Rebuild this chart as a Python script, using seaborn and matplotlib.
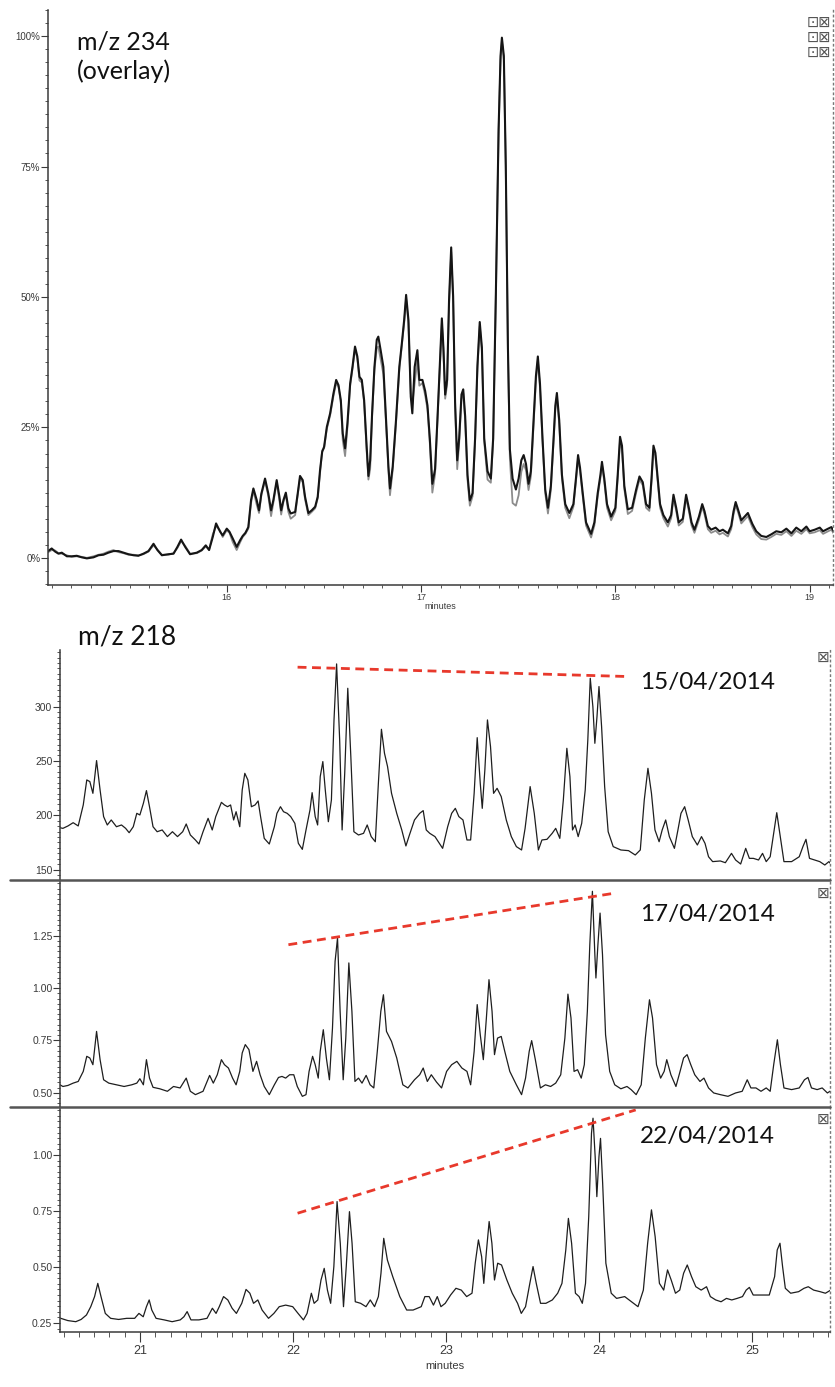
import matplotlib
matplotlib.use("Agg")
import matplotlib.pyplot as plt
from matplotlib.lines import Line2D
from matplotlib.ticker import MultipleLocator, FixedLocator, FuncFormatter
import seaborn as sns

# ---------------- data: m/z 234 overlay (percent of base peak) ----------------
top_time = [
    15.077, 15.099, 15.117, 15.134, 15.151, 15.177, 15.202, 15.228, 15.254, 15.280,
    15.314, 15.340, 15.365, 15.391, 15.417, 15.443, 15.468, 15.494, 15.520, 15.545,
    15.571, 15.597, 15.623, 15.643, 15.666, 15.700, 15.726, 15.746, 15.765, 15.786,
    15.811, 15.846, 15.871, 15.892, 15.909, 15.928, 15.945, 15.966, 15.979, 16.000,
    16.014, 16.031, 16.051, 16.069, 16.082, 16.096, 16.111, 16.125, 16.137, 16.154,
    16.166, 16.178, 16.197, 16.214, 16.228, 16.240, 16.257, 16.271, 16.280, 16.292,
    16.304, 16.317, 16.329, 16.352, 16.365, 16.377, 16.391, 16.403, 16.420, 16.437,
    16.455, 16.468, 16.480, 16.491, 16.501, 16.515, 16.532, 16.549, 16.563, 16.575,
    16.587, 16.597, 16.609, 16.621, 16.635, 16.647, 16.660, 16.672, 16.683, 16.695,
    16.707, 16.720, 16.729, 16.738, 16.748, 16.760, 16.772, 16.780, 16.792, 16.806,
    16.818, 16.832, 16.840, 16.854, 16.871, 16.888, 16.901, 16.913, 16.923, 16.935,
    16.947, 16.955, 16.967, 16.981, 16.991,
    17.007, 17.021, 17.033, 17.045, 17.058, 17.072, 17.084, 17.096, 17.107, 17.115,
    17.124, 17.134, 17.144, 17.155, 17.165, 17.175, 17.186, 17.196, 17.208, 17.217,
    17.227, 17.239, 17.251, 17.265, 17.278, 17.290, 17.302, 17.313, 17.325, 17.342,
    17.359, 17.371, 17.385, 17.399, 17.409, 17.416, 17.426, 17.436, 17.447, 17.457,
    17.471, 17.488, 17.502, 17.516, 17.528, 17.540, 17.553, 17.565, 17.579, 17.591,
    17.601, 17.612, 17.625, 17.639, 17.653, 17.668, 17.682, 17.691, 17.699, 17.711,
    17.725, 17.742, 17.763, 17.784, 17.797, 17.808, 17.818, 17.832, 17.849, 17.875,
    17.892, 17.909, 17.923, 17.931, 17.943, 17.957, 17.978, 18.000, 18.012, 18.024,
    18.034, 18.046, 18.064, 18.086, 18.107, 18.124, 18.141, 18.158, 18.175, 18.186,
    18.196, 18.206, 18.218, 18.230, 18.247, 18.270, 18.287, 18.299, 18.313, 18.326,
    18.347, 18.364, 18.378, 18.392, 18.407, 18.430, 18.447, 18.459, 18.476, 18.493,
    18.516, 18.536, 18.553, 18.579, 18.596, 18.608, 18.619, 18.631, 18.648, 18.665,
    18.682, 18.705, 18.725, 18.751, 18.777, 18.802, 18.828, 18.854, 18.880, 18.906,
    18.931, 18.957, 18.983, 19.000, 19.026, 19.052, 19.069, 19.095, 19.112, 19.129,
]
top_run_a = [
    1.2, 1.8, 1.2, 0.8, 1.0, 0.3, 0.3, 0.4, 0.1, -0.1,
    0.1, 0.5, 0.6, 1.0, 1.3, 1.3, 1.0, 0.7, 0.5, 0.4,
    0.8, 1.3, 2.7, 1.5, 0.5, 0.7, 0.8, 2.1, 3.5, 2.1,
    0.7, 1.0, 1.5, 2.4, 1.5, 4.0, 6.6, 5.0, 4.3, 5.6,
    5.0, 3.7, 2.1, 3.4, 4.2, 4.8, 5.9, 11.1, 13.3, 11.1,
    9.1, 12.3, 15.2, 12.3, 9.1, 11.1, 14.9, 11.7, 9.1, 11.1,
    12.5, 9.5, 8.5, 8.8, 12.3, 15.7, 14.9, 11.7, 8.6, 9.1,
    9.8, 11.7, 16.8, 20.3, 21.3, 25.1, 27.7, 31.5, 34.1, 33.1,
    30.2, 23.8, 21.0, 25.8, 33.4, 36.6, 40.5, 38.6, 34.7, 34.1,
    30.2, 21.3, 15.7, 18.7, 27.7, 36.6, 41.8, 42.4, 39.8, 36.6,
    27.7, 17.5, 13.3, 17.5, 26.4, 36.6, 41.1, 45.6, 50.4, 45.6,
    30.9, 27.7, 36.6, 39.8, 34.1,
    34.1, 32.0, 29.2, 22.9, 14.2, 17.0, 26.4, 36.8, 45.9, 40.3,
    31.3, 34.1, 49.4, 59.5, 50.1, 29.9, 18.7, 22.9, 31.3, 32.3,
    27.1, 15.9, 11.0, 12.4, 22.9, 36.8, 45.2, 40.3, 22.9, 16.6,
    15.2, 22.9, 50.8, 82.2, 96.2, 99.7, 96.2, 75.2, 40.3, 20.8,
    15.2, 13.1, 15.2, 18.7, 19.7, 18.0, 14.2, 16.6, 26.4, 34.8,
    38.6, 33.4, 22.9, 13.1, 9.6, 13.8, 22.9, 29.2, 31.6, 26.4,
    15.9, 10.3, 8.6, 10.3, 15.2, 19.7, 17.3, 12.4, 6.8, 4.6,
    6.8, 12.4, 15.9, 18.4, 15.2, 10.3, 7.9, 9.6, 15.9, 23.2,
    21.5, 13.8, 9.3, 9.6, 13.1, 15.6, 14.5, 10.3, 9.6, 15.2,
    21.5, 20.1, 15.2, 10.3, 8.2, 6.8, 8.2, 12.1, 9.6, 6.8,
    7.5, 12.1, 9.6, 6.8, 5.4, 7.9, 10.3, 8.9, 6.1, 5.4,
    5.8, 5.1, 5.4, 4.7, 6.1, 8.9, 10.7, 9.3, 7.2, 7.9,
    8.6, 6.5, 5.1, 4.2, 4.0, 4.5, 5.1, 4.9, 5.6, 4.7,
    5.8, 5.1, 6.0, 5.1, 5.4, 5.8, 5.1, 5.6, 5.9, 4.7,
]
top_run_b = [
    1.0, 1.5, 1.4, 0.9, 0.8, 0.5, 0.2, 0.3, 0.2, 0.0,
    0.3, 0.6, 0.8, 1.2, 1.5, 1.1, 0.9, 0.6, 0.6, 0.5,
    0.7, 1.2, 2.4, 1.6, 0.6, 0.6, 0.9, 1.9, 3.2, 2.3,
    0.8, 0.9, 1.4, 2.2, 1.6, 4.5, 6.1, 5.2, 4.0, 5.3,
    4.8, 3.0, 1.5, 3.0, 4.0, 4.6, 5.6, 10.5, 12.9, 10.2,
    8.6, 12.0, 14.8, 11.8, 8.0, 10.6, 14.5, 11.0, 8.3, 10.8,
    12.1, 8.8, 7.5, 8.2, 12.0, 15.3, 14.5, 11.2, 8.2, 8.8,
    9.5, 11.4, 16.3, 20.6, 21.0, 24.7, 27.3, 31.0, 33.5, 32.8,
    29.8, 22.5, 19.5, 25.0, 33.0, 36.2, 40.0, 38.2, 34.0, 33.6,
    29.8, 20.5, 15.0, 17.0, 27.2, 36.0, 40.2, 40.5, 38.0, 35.2,
    27.0, 16.8, 12.0, 16.8, 25.8, 36.0, 40.6, 45.0, 49.6, 45.0,
    31.5, 29.5, 33.5, 38.0, 33.0,
    33.5, 31.2, 28.5, 22.0, 12.5, 16.0, 25.8, 36.0, 45.0, 39.6,
    30.5, 33.2, 48.5, 58.6, 49.2, 29.0, 17.0, 22.0, 30.5, 31.6,
    26.4, 15.0, 10.0, 11.8, 22.3, 36.2, 44.4, 39.7, 22.3, 15.0,
    14.4, 22.3, 50.2, 81.5, 95.4, 99.0, 95.5, 74.5, 39.5, 19.0,
    10.5, 10.0, 12.0, 16.5, 18.0, 16.8, 13.0, 15.6, 25.6, 34.0,
    37.8, 32.6, 22.3, 12.4, 8.5, 13.0, 22.3, 28.5, 30.8, 25.7,
    15.2, 9.6, 7.6, 9.8, 14.6, 19.0, 16.6, 11.8, 6.2, 3.9,
    6.2, 11.8, 15.3, 17.8, 14.6, 9.6, 7.2, 9.0, 15.2, 22.5,
    20.8, 13.2, 8.4, 9.0, 12.5, 15.0, 13.9, 9.6, 9.0, 14.6,
    20.8, 19.5, 14.6, 9.6, 7.6, 6.0, 7.6, 11.5, 9.0, 6.2,
    6.9, 11.5, 9.0, 6.2, 4.8, 7.3, 9.8, 8.3, 5.5, 4.8,
    5.2, 4.5, 4.8, 4.1, 5.5, 8.3, 10.1, 8.8, 6.6, 7.3,
    8.0, 5.9, 4.5, 3.6, 3.5, 4.0, 4.6, 4.4, 5.1, 4.2,
    5.2, 4.6, 5.5, 4.7, 4.9, 5.3, 4.6, 5.1, 5.4, 4.3,
]

# ---------------- data: m/z 218, 15/04/2014 ----------------
t_0415 = [
    20.446, 20.496, 20.529, 20.563, 20.596, 20.629, 20.652, 20.672, 20.692, 20.716,
    20.739, 20.762, 20.786, 20.812, 20.846, 20.879, 20.906, 20.929, 20.956, 20.979,
    20.999, 21.022, 21.042, 21.062, 21.085, 21.112, 21.145, 21.179, 21.212, 21.245,
    21.279, 21.302, 21.329, 21.362, 21.385, 21.412, 21.445, 21.472, 21.495, 21.512,
    21.532, 21.552, 21.572, 21.592, 21.612, 21.628, 21.652, 21.668, 21.685, 21.705,
    21.728, 21.752, 21.772, 21.788, 21.812, 21.845, 21.878, 21.895, 21.918, 21.938,
    21.962, 21.985, 22.012, 22.035, 22.061, 22.085, 22.111, 22.125, 22.145, 22.161,
    22.178, 22.195, 22.211, 22.231, 22.251, 22.268, 22.285, 22.305, 22.321, 22.338,
    22.358, 22.378, 22.398, 22.428, 22.461, 22.485, 22.511, 22.538, 22.558, 22.578,
    22.598, 22.618, 22.644, 22.678, 22.711, 22.738, 22.761, 22.794, 22.828, 22.851,
    22.871, 22.894, 22.928, 22.978, 23.011, 23.037, 23.061, 23.084, 23.111, 23.137,
    23.161, 23.184, 23.204, 23.224, 23.237, 23.254, 23.271, 23.291, 23.311, 23.334,
    23.361, 23.394, 23.427, 23.460, 23.494, 23.517, 23.550, 23.577, 23.604, 23.627,
    23.660, 23.694, 23.717, 23.744, 23.767, 23.790, 23.810, 23.827, 23.844, 23.864,
    23.887, 23.910, 23.927, 23.943, 23.960, 23.973, 23.987, 24.000, 24.017, 24.037,
    24.060, 24.093, 24.143, 24.193, 24.237, 24.270, 24.296, 24.320, 24.343, 24.366,
    24.393, 24.413, 24.436, 24.460, 24.493, 24.516, 24.536, 24.560, 24.583, 24.610,
    24.643, 24.670, 24.693, 24.716, 24.743, 24.793, 24.826, 24.866, 24.893, 24.926,
    24.959, 24.983, 25.009, 25.043, 25.069, 25.093, 25.119, 25.142, 25.162, 25.182,
    25.209, 25.259, 25.309, 25.333, 25.353, 25.376, 25.409, 25.443, 25.476, 25.503, 25.516,
]
i_0415 = [
    189.5, 188.0, 190.2, 193.2, 190.2, 209.5, 232.5, 231.0, 220.2, 250.3,
    223.3, 198.8, 191.1, 195.7, 189.5, 191.1, 188.0, 184.0, 189.5, 201.8,
    200.3, 211.0, 222.7, 207.9, 189.5, 184.9, 186.5, 180.4, 184.9, 180.4,
    184.9, 192.0, 181.9, 177.3, 173.6, 184.9, 197.2, 186.5, 198.8, 204.9,
    211.9, 209.5, 207.9, 209.5, 195.7, 203.3, 189.5, 223.3, 238.6, 232.5,
    207.9, 209.5, 213.2, 198.8, 178.8, 173.6, 189.5, 201.8, 207.9, 203.3,
    201.8, 198.8, 192.6, 174.2, 168.7, 186.5, 204.9, 220.8, 198.8, 191.1,
    235.6, 249.4, 223.3, 194.1, 214.1, 287.7, 339.2, 269.3, 186.5, 238.6,
    316.8, 253.9, 184.9, 181.9, 183.4, 191.1, 180.4, 175.7, 229.4, 279.1,
    257.0, 244.8, 220.2, 201.8, 186.5, 171.8, 181.9, 195.7, 201.8, 204.3,
    186.5, 183.4, 180.4, 169.6, 189.5, 201.8, 206.4, 198.8, 195.7, 177.3,
    177.3, 220.2, 271.4, 229.4, 206.4, 241.7, 287.7, 263.2, 220.2, 224.8,
    217.2, 195.7, 180.4, 171.2, 168.1, 188.0, 226.4, 201.8, 168.1, 177.3,
    177.9, 183.4, 188.0, 178.8, 214.1, 261.6, 235.6, 186.5, 191.1, 180.4,
    192.6, 223.3, 269.3, 326.0, 300.0, 266.2, 290.8, 318.4, 281.6, 226.4,
    184.9, 171.2, 168.1, 167.5, 163.5, 168.1, 214.1, 243.2, 220.2, 186.5,
    175.7, 186.5, 195.7, 180.4, 169.6, 186.5, 201.8, 207.9, 195.7, 180.4,
    172.7, 180.4, 174.2, 161.9, 157.4, 158.0, 156.4, 165.0, 158.9, 155.2,
    169.6, 160.4, 160.4, 158.9, 165.0, 157.4, 161.9, 183.4, 202.4, 183.4,
    157.4, 157.4, 161.9, 171.2, 177.9, 160.4, 158.9, 157.4, 154.3, 157.4, 155.2,
]

# ---------------- data: m/z 218, 17/04/2014 ----------------
t_1704 = [
    20.446, 20.496, 20.529, 20.563, 20.596, 20.629, 20.652, 20.672, 20.692, 20.716,
    20.739, 20.762, 20.796, 20.846, 20.896, 20.946, 20.979, 20.999, 21.022, 21.042,
    21.062, 21.085, 21.129, 21.179, 21.219, 21.262, 21.302, 21.329, 21.362, 21.412,
    21.455, 21.479, 21.505, 21.532, 21.552, 21.578, 21.605, 21.628, 21.652, 21.668,
    21.688, 21.712, 21.738, 21.762, 21.785, 21.812, 21.845, 21.878, 21.905, 21.928,
    21.952, 21.978, 22.005, 22.028, 22.061, 22.085, 22.105, 22.128, 22.145, 22.165,
    22.178, 22.198, 22.218, 22.238, 22.258, 22.275, 22.291, 22.308, 22.328, 22.345,
    22.365, 22.385, 22.405, 22.428, 22.451, 22.478, 22.504, 22.528, 22.551, 22.574,
    22.591, 22.611, 22.644, 22.678, 22.718, 22.751, 22.794, 22.828, 22.851, 22.878,
    22.904, 22.938, 22.971, 23.004, 23.037, 23.071, 23.104, 23.137, 23.161, 23.184,
    23.204, 23.224, 23.244, 23.264, 23.281, 23.301, 23.317, 23.337, 23.361, 23.384,
    23.417, 23.460, 23.494, 23.520, 23.544, 23.560, 23.584, 23.617, 23.650, 23.684,
    23.717, 23.750, 23.777, 23.797, 23.817, 23.837, 23.860, 23.884, 23.904, 23.924,
    23.940, 23.957, 23.973, 23.980, 23.993, 24.007, 24.023, 24.043, 24.070, 24.103,
    24.143, 24.183, 24.210, 24.243, 24.276, 24.303, 24.330, 24.350, 24.376, 24.403,
    24.426, 24.443, 24.470, 24.503, 24.530, 24.553, 24.576, 24.600, 24.626, 24.660,
    24.686, 24.716, 24.750, 24.793, 24.843, 24.893, 24.936, 24.969, 24.993, 25.026,
    25.059, 25.093, 25.119, 25.142, 25.166, 25.186, 25.209, 25.259, 25.309, 25.343,
    25.366, 25.389, 25.426, 25.459, 25.493, 25.516,
]
i_1704 = [
    0.551, 0.530, 0.535, 0.546, 0.554, 0.602, 0.674, 0.666, 0.634, 0.793,
    0.658, 0.562, 0.546, 0.538, 0.530, 0.538, 0.546, 0.567, 0.538, 0.658,
    0.570, 0.526, 0.519, 0.507, 0.530, 0.523, 0.570, 0.507, 0.491, 0.507,
    0.583, 0.546, 0.586, 0.658, 0.634, 0.618, 0.570, 0.538, 0.602, 0.690,
    0.730, 0.706, 0.602, 0.650, 0.586, 0.530, 0.491, 0.538, 0.573, 0.578,
    0.570, 0.586, 0.586, 0.530, 0.483, 0.491, 0.602, 0.674, 0.634, 0.570,
    0.698, 0.801, 0.666, 0.562, 0.809, 1.127, 1.239, 0.889, 0.562, 0.761,
    1.120, 0.889, 0.554, 0.570, 0.546, 0.583, 0.538, 0.523, 0.698, 0.889,
    0.968, 0.793, 0.745, 0.666, 0.538, 0.523, 0.562, 0.586, 0.618, 0.554,
    0.586, 0.551, 0.523, 0.602, 0.634, 0.650, 0.618, 0.602, 0.538, 0.698,
    0.921, 0.777, 0.658, 0.857, 1.040, 0.889, 0.682, 0.761, 0.769, 0.698,
    0.602, 0.538, 0.491, 0.570, 0.698, 0.749, 0.658, 0.523, 0.538, 0.530,
    0.546, 0.586, 0.761, 0.971, 0.857, 0.602, 0.610, 0.570, 0.634, 0.889,
    1.207, 1.462, 1.159, 1.048, 1.207, 1.358, 1.159, 0.777, 0.602, 0.538,
    0.519, 0.530, 0.515, 0.491, 0.538, 0.761, 0.944, 0.857, 0.634, 0.570,
    0.602, 0.658, 0.586, 0.530, 0.602, 0.666, 0.682, 0.634, 0.586, 0.554,
    0.570, 0.523, 0.499, 0.491, 0.483, 0.499, 0.507, 0.562, 0.523, 0.523,
    0.507, 0.523, 0.507, 0.634, 0.753, 0.634, 0.523, 0.515, 0.523, 0.562,
    0.573, 0.523, 0.515, 0.523, 0.499, 0.510,
]

# ---------------- data: m/z 218, 22/04/2014 ----------------
t_2204 = [
    20.482, 20.528, 20.580, 20.615, 20.650, 20.678, 20.703, 20.724, 20.745, 20.773,
    20.808, 20.860, 20.913, 20.965, 20.993, 21.021, 21.042, 21.060, 21.077, 21.105,
    21.158, 21.210, 21.263, 21.287, 21.308, 21.333, 21.385, 21.438, 21.473, 21.497,
    21.518, 21.546, 21.574, 21.602, 21.630, 21.665, 21.693, 21.718, 21.742, 21.770,
    21.798, 21.840, 21.875, 21.910, 21.952, 21.998, 22.033, 22.068, 22.092, 22.120,
    22.138, 22.162, 22.183, 22.204, 22.225, 22.246, 22.267, 22.288, 22.309, 22.330,
    22.348, 22.369, 22.386, 22.407, 22.442, 22.477, 22.505, 22.533, 22.558, 22.575,
    22.593, 22.617, 22.652, 22.698, 22.743, 22.785, 22.838, 22.862, 22.890, 22.918,
    22.943, 22.967, 22.995, 23.030, 23.065, 23.100, 23.135, 23.170, 23.191, 23.212,
    23.233, 23.247, 23.265, 23.282, 23.300, 23.317, 23.338, 23.363, 23.398, 23.433,
    23.468, 23.492, 23.520, 23.548, 23.569, 23.590, 23.618, 23.653, 23.695, 23.730,
    23.758, 23.783, 23.800, 23.821, 23.846, 23.870, 23.891, 23.912, 23.933, 23.951,
    23.961, 23.975, 23.986, 24.000, 24.010, 24.024, 24.045, 24.080, 24.115, 24.168,
    24.213, 24.255, 24.290, 24.318, 24.343, 24.367, 24.395, 24.423, 24.448, 24.472,
    24.500, 24.528, 24.553, 24.577, 24.605, 24.633, 24.668, 24.703, 24.728, 24.763,
    24.798, 24.833, 24.868, 24.903, 24.938, 24.962, 24.983, 25.008, 25.060, 25.113,
    25.148, 25.165, 25.183, 25.200, 25.218, 25.253, 25.305, 25.340, 25.368, 25.403,
    25.445, 25.480, 25.515, 25.533,
]
i_2204 = [
    0.271, 0.261, 0.256, 0.266, 0.286, 0.323, 0.368, 0.427, 0.368, 0.293,
    0.271, 0.266, 0.271, 0.271, 0.293, 0.278, 0.323, 0.353, 0.308, 0.271,
    0.264, 0.256, 0.264, 0.278, 0.301, 0.264, 0.264, 0.271, 0.316, 0.293,
    0.323, 0.368, 0.353, 0.316, 0.293, 0.338, 0.400, 0.383, 0.338, 0.353,
    0.308, 0.271, 0.293, 0.323, 0.330, 0.323, 0.293, 0.264, 0.293, 0.383,
    0.338, 0.353, 0.442, 0.494, 0.397, 0.338, 0.502, 0.792, 0.606, 0.323,
    0.502, 0.747, 0.606, 0.345, 0.338, 0.323, 0.353, 0.323, 0.368, 0.472,
    0.628, 0.531, 0.457, 0.368, 0.308, 0.308, 0.323, 0.368, 0.368, 0.330,
    0.368, 0.323, 0.338, 0.375, 0.405, 0.397, 0.368, 0.383, 0.517, 0.621,
    0.546, 0.427, 0.576, 0.703, 0.606, 0.442, 0.517, 0.509, 0.442, 0.383,
    0.338, 0.293, 0.323, 0.427, 0.502, 0.427, 0.338, 0.338, 0.353, 0.383,
    0.427, 0.576, 0.717, 0.606, 0.383, 0.368, 0.338, 0.427, 0.725, 1.097,
    1.164, 0.993, 0.814, 0.993, 1.074, 0.874, 0.517, 0.383, 0.360, 0.368,
    0.345, 0.323, 0.397, 0.606, 0.755, 0.636, 0.427, 0.397, 0.487, 0.442,
    0.383, 0.397, 0.472, 0.509, 0.457, 0.412, 0.397, 0.412, 0.368, 0.353,
    0.345, 0.360, 0.353, 0.360, 0.368, 0.397, 0.409, 0.375, 0.375, 0.375,
    0.457, 0.576, 0.606, 0.502, 0.405, 0.383, 0.390, 0.405, 0.412, 0.397,
    0.390, 0.383, 0.397, 0.400,
]

# red dashed trend lines (minutes, intensity)
trend_0415_t = [22.03, 24.19]
trend_0415_y = [336.2, 327.6]
trend_1704_t = [21.97, 24.11]
trend_1704_y = [1.207, 1.454]
trend_2204_t = [22.03, 24.24]
trend_2204_y = [0.740, 1.201]

top_yticks = [0, 25, 50, 75, 100]
top_xticks = [16, 17, 18, 19]
bottom_xticks = [21, 22, 23, 24, 25]
yticks_0415 = [150, 200, 250, 300]
yticks_1704 = [0.50, 0.75, 1.00, 1.25]
yticks_2204 = [0.25, 0.50, 0.75, 1.00]
date_labels = ["15/04/2014", "17/04/2014", "22/04/2014"]

# ---------------- style ----------------
sns.set_theme(style="ticks")
plt.rcParams['font.family'] = ['Liberation Sans Narrow', 'Liberation Sans', 'DejaVu Sans']
plt.rcParams['axes.linewidth'] = 1.1

W, H = 835, 1387
fig = plt.figure(figsize=(W / 100, H / 100), dpi=100)


def fx(px):
    return px / W


def fy(py):
    return 1 - py / H


AX_COL = '#3a3a3a'
TXT_COL = '#3a3a3a'
ANN_FONT = ['Lato', 'DejaVu Sans']


def style_axis(ax):
    ax.spines['top'].set_visible(False)
    ax.spines['right'].set_linestyle((0, (1, 2.5)))
    ax.spines['right'].set_color('#777777')
    ax.spines['right'].set_linewidth(1.0)
    ax.spines['left'].set_color(AX_COL)
    ax.spines['bottom'].set_color(AX_COL)
    ax.tick_params(which='major', direction='out', color=AX_COL, width=0.8,
                   labelcolor=TXT_COL)
    ax.tick_params(which='minor', direction='out', color=AX_COL, width=0.6)
    ax.set_facecolor('white')


# ---------------- top panel ----------------
ax0 = fig.add_axes([fx(48), fy(585), fx(833 - 48), (585 - 10) / H])
sns.lineplot(x=top_time, y=top_run_b, ax=ax0, estimator=None, sort=False,
             color='#8c8c8c', linewidth=1.3)
sns.lineplot(x=top_time, y=top_run_a, ax=ax0, estimator=None, sort=False,
             color='#151515', linewidth=1.5)
ax0.set_xlim(15.08, 19.12)
ax0.set_ylim(-5.2, 105.0)
style_axis(ax0)
ax0.yaxis.set_major_locator(FixedLocator(top_yticks))
ax0.yaxis.set_major_formatter(FuncFormatter(lambda v, p: f"{int(v)}%"))
ax0.yaxis.set_minor_locator(MultipleLocator(2.5))
ax0.xaxis.set_major_locator(FixedLocator(top_xticks))
ax0.xaxis.set_minor_locator(MultipleLocator(0.1))
ax0.tick_params(axis='y', which='major', length=5, labelsize=7, pad=0.5)
ax0.tick_params(axis='y', which='minor', length=2.5)
ax0.tick_params(axis='x', which='major', length=5, labelsize=6.5, pad=0.5)
ax0.tick_params(axis='x', which='minor', length=2.5)
ax0.set_xlabel("minutes", fontsize=6.5, labelpad=0, color=TXT_COL)
ax0.set_ylabel("")
fig.text(fx(77), fy(30), "m/z 234\n(overlay)", ha='left', va='top', fontsize=18,
         linespacing=1.35, color='#111111', family=ANN_FONT)

# ---------------- bottom panels ----------------
left_px, right_px = 60, 830
panels = [
    (650, 880, t_0415, i_0415, (140.5, 352.0), yticks_0415, 5,
     trend_0415_t, trend_0415_y, lambda v, p: f"{int(v)}"),
    (880, 1107, t_1704, i_1704, (0.432, 1.516), yticks_1704, 0.025,
     trend_1704_t, trend_1704_y, lambda v, p: f"{v:.2f}"),
    (1107, 1332, t_2204, i_2204, (0.210, 1.214), yticks_2204, 0.025,
     trend_2204_t, trend_2204_y, lambda v, p: f"{v:.2f}"),
]
axes = []
for k, (top_px, bot_px, tt, yy, ylim, yt, ymin_step, rt, ry, fmt) in enumerate(panels):
    ax = fig.add_axes([fx(left_px), fy(bot_px), fx(right_px - left_px), (bot_px - top_px) / H])
    sns.lineplot(x=tt, y=yy, ax=ax, estimator=None, sort=False,
                 color='#1e1e1e', linewidth=0.9)
    ax.plot(rt, ry, color='#e8392c', linewidth=2.0, dashes=(3.2, 2.0),
            solid_capstyle='butt', dash_capstyle='butt')
    ax.set_xlim(20.477, 25.51)
    ax.set_ylim(*ylim)
    style_axis(ax)
    ax.yaxis.set_major_locator(FixedLocator(yt))
    ax.yaxis.set_major_formatter(FuncFormatter(fmt))
    ax.yaxis.set_minor_locator(MultipleLocator(ymin_step))
    ax.xaxis.set_major_locator(FixedLocator(bottom_xticks))
    ax.xaxis.set_minor_locator(MultipleLocator(0.1))
    ax.tick_params(axis='y', which='major', length=5, labelsize=7.5, pad=0.5)
    ax.tick_params(axis='y', which='minor', length=2.5)
    ax.set_ylabel("")
    if k < 2:
        ax.spines['bottom'].set_visible(False)
        ax.tick_params(axis='x', which='both', bottom=False, labelbottom=False)
        ax.set_xlabel("")
    else:
        ax.tick_params(axis='x', which='major', length=7, labelsize=9, pad=2)
        ax.tick_params(axis='x', which='minor', length=3.5)
        ax.set_xlabel("minutes", fontsize=8, labelpad=3, color=TXT_COL)
    axes.append(ax)

# separators between stacked panels
for ypx in (880, 1107):
    fig.add_artist(Line2D([fx(10), fx(830)], [fy(ypx), fy(ypx)], color='#555555',
                          linewidth=1.8, transform=fig.transFigure))

# panel texts
fig.text(fx(78), fy(637), "m/z 218", ha='left', va='center', fontsize=19,
         color='#111111', family=ANN_FONT)
for label, ypx in zip(date_labels, (682, 914, 1137)):
    fig.text(fx(640), fy(ypx), label, ha='left', va='center', fontsize=17.5,
             color='#111111', family=ANN_FONT)

# small window icons
for ypx in (657, 893, 1119):
    fig.text(fx(823), fy(ypx), "\u22a0", ha='center', va='center', fontsize=11,
             color='#555555', family=['DejaVu Sans'])
for ypx in (22, 37, 52):
    fig.text(fx(831), fy(ypx), "\u22a1\u22a0", ha='right', va='center', fontsize=10.5,
             color='#555555', family=['DejaVu Sans'])

fig.savefig("out.png", dpi=100, facecolor='white')
